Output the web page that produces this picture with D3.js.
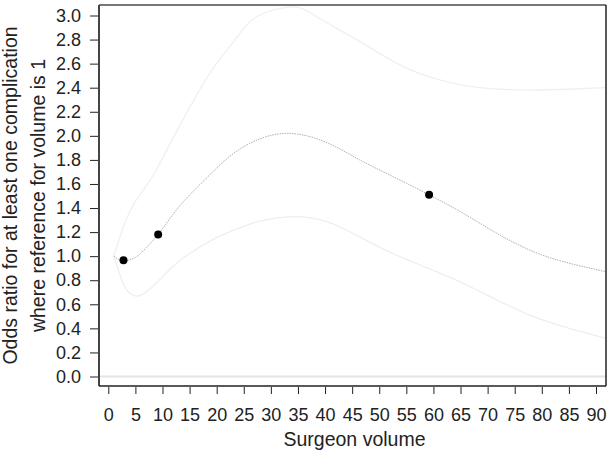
<!DOCTYPE html>
<html>
<head>
<meta charset="utf-8">
<script src="https://cdn.jsdelivr.net/npm/d3@7"></script>
<style>
  body { margin: 0; background: #fff; }
  svg text { font-family: "Liberation Sans", Arial, Helvetica, sans-serif; fill: #222; }
  .axis path { display: none; }
  .axis line { stroke: #222; }
</style>
</head>
<body>
<svg class="chart" width="611" height="452"></svg>
<script>
// estimated odds ratio curve (volume, OR)
var fitVolume = [1, 2, 3, 5, 7, 9.2, 11, 14, 18.6, 23, 28, 33.5, 40, 46.4, 52.6, 59.2, 65.5, 71.7, 77.8, 84, 91.8];
var fitOR     = [1.0, 0.97, 0.962, 0.99, 1.07, 1.18, 1.29, 1.46, 1.67, 1.85, 1.975, 2.02, 1.95, 1.80, 1.66, 1.51, 1.356, 1.19, 1.05, 0.954, 0.871];

// upper 95% bound
var upperVolume = [1, 2, 3, 4.4, 6, 8, 9.5, 13, 16.7, 19.8, 24.1, 27.8, 33.5, 37, 41.5, 47.7, 53.8, 60, 66.1, 72.3, 78.4, 84.6, 91.8];
var upperOR     = [1.0, 1.14, 1.27, 1.41, 1.52, 1.65, 1.77, 2.07, 2.37, 2.59, 2.84, 3.0, 3.07, 3.03, 2.91, 2.75, 2.59, 2.48, 2.415, 2.387, 2.38, 2.387, 2.40];

// lower 95% bound
var lowerVolume = [1, 2.28, 3.2, 5.05, 7.5, 10.6, 13.7, 19.8, 26, 29.6, 34.1, 40.3, 46.4, 52.6, 60.6, 65.5, 71.7, 77.8, 84, 91.8];
var lowerOR     = [1.0, 0.83, 0.733, 0.669, 0.72, 0.858, 0.98, 1.15, 1.265, 1.305, 1.328, 1.287, 1.16, 1.02, 0.87, 0.775, 0.636, 0.51, 0.414, 0.317];

// observed points
var pointVolume = [2.8, 9.2, 59.2];
var pointOR     = [0.966, 1.18, 1.51];

// tick labels
var xTicks = d3.range(0, 91, 5);
var yTicks = [0, 0.2, 0.4, 0.6, 0.8, 1.0, 1.2, 1.4, 1.6, 1.8, 2.0, 2.2, 2.4, 2.6, 2.8, 3.0];

var box = { left: 99, right: 606, top: 5, bottom: 386 };

var x = d3.scaleLinear().domain([0, 90]).range([108.3, 596]);
var y = d3.scaleLinear().domain([0, 3]).range([376.5, 15.5]);

var svg = d3.select(".chart");

svg.append("clipPath").attr("id", "plotclip")
    .append("rect")
    .attr("x", box.left).attr("y", box.top)
    .attr("width", box.right - box.left).attr("height", box.bottom - box.top);

var plot = svg.append("g").attr("clip-path", "url(#plotclip)");

// reference line at 0
plot.append("line")
    .attr("x1", box.left).attr("x2", box.right)
    .attr("y1", y(0)).attr("y2", y(0))
    .attr("stroke", "#e4e4e4")
    .attr("stroke-width", 2);

function toPts(xs, ys) {
    return xs.map(function (v, i) { return [v, ys[i]]; });
}

var line = d3.line()
    .x(function (d) { return x(d[0]); })
    .y(function (d) { return y(d[1]); })
    .curve(d3.curveNatural);

plot.append("path")
    .datum(toPts(upperVolume, upperOR))
    .attr("d", line)
    .attr("fill", "none")
    .attr("stroke", "#f0f0f0")
    .attr("stroke-width", 1.3);

plot.append("path")
    .datum(toPts(lowerVolume, lowerOR))
    .attr("d", line)
    .attr("fill", "none")
    .attr("stroke", "#eeeeee")
    .attr("stroke-width", 1.3);

plot.append("path")
    .datum(toPts(fitVolume, fitOR))
    .attr("d", line)
    .attr("fill", "none")
    .attr("stroke", "#b0b0b0")
    .attr("stroke-width", 1)
    .attr("stroke-dasharray", "1.5,1");

plot.selectAll("circle")
    .data(toPts(pointVolume, pointOR))
    .enter().append("circle")
    .attr("cx", function (d) { return x(d[0]); })
    .attr("cy", function (d) { return y(d[1]); })
    .attr("r", 4)
    .attr("fill", "#000");

// frame
svg.append("line").attr("x1", box.left).attr("x2", box.right).attr("y1", box.top).attr("y2", box.top)
    .attr("stroke", "#777").attr("stroke-width", 2);
svg.append("line").attr("x1", box.left).attr("x2", box.left).attr("y1", box.top).attr("y2", box.bottom)
    .attr("stroke", "#444").attr("stroke-width", 2);
svg.append("line").attr("x1", box.right).attr("x2", box.right).attr("y1", box.top).attr("y2", box.bottom)
    .attr("stroke", "#222").attr("stroke-width", 1.5);
svg.append("line").attr("x1", box.left).attr("x2", box.right).attr("y1", box.bottom).attr("y2", box.bottom)
    .attr("stroke", "#222").attr("stroke-width", 1.5);

// axes
var xAxis = d3.axisBottom(x).tickValues(xTicks).tickSize(7).tickPadding(14)
    .tickFormat(d3.format("d"));
svg.append("g")
    .attr("class", "axis")
    .attr("transform", "translate(0," + (box.bottom + 1) + ")")
    .call(xAxis)
    .selectAll("text")
    .style("font-size", "18px");

var yAxis = d3.axisLeft(y).tickValues(yTicks).tickSize(8).tickPadding(9)
    .tickFormat(d3.format(".1f"));
svg.append("g")
    .attr("class", "axis")
    .attr("transform", "translate(" + (box.left - 1) + ",0)")
    .call(yAxis)
    .selectAll("text")
    .style("font-size", "18px");

// axis titles
svg.append("text")
    .attr("x", (box.left + box.right) / 2 + 2)
    .attr("y", 446)
    .style("text-anchor", "middle")
    .style("font-size", "19.5px")
    .text("Surgeon volume");

var yMid = (box.top + box.bottom) / 2;
svg.append("text")
    .attr("transform", "translate(17," + yMid + ") rotate(-90)")
    .style("text-anchor", "middle")
    .style("font-size", "19.5px")
    .text("Odds ratio for at least one complication");

svg.append("text")
    .attr("transform", "translate(45," + yMid + ") rotate(-90)")
    .style("text-anchor", "middle")
    .style("font-size", "19.5px")
    .text("where reference for volume is 1");
</script>
</body>
</html>
